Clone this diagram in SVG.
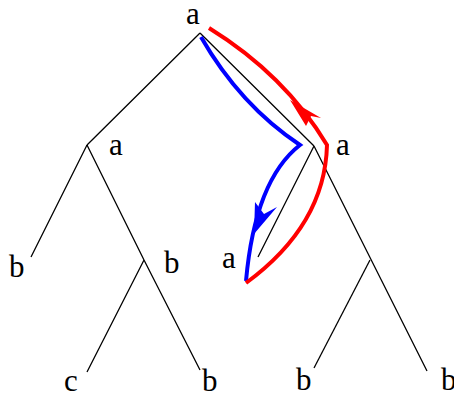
<svg xmlns="http://www.w3.org/2000/svg" width="454" height="398" viewBox="0 0 454 398">
<style>
.e{stroke:#000;stroke-width:1.3;fill:none}
.l{font-family:"Liberation Serif","Times New Roman",serif;font-size:31px;fill:#000}
.b{stroke:#0000ff;stroke-width:4;fill:none}
.r{stroke:#ff0000;stroke-width:4;fill:none}
</style>
<rect width="454" height="398" fill="#fff"/>
<g id="edges">
<path class="e" d="M200,33 L87,145 M200,33 L314,146"/>
<path class="e" d="M87,145 L31,257 M87,145 L144,260"/>
<path class="e" d="M144,260 L87,372 M144,260 L200,370"/>
<path class="e" d="M314,146 L258,257 M314,146 L427,371"/>
<path class="e" d="M370,260 L314,368"/>
</g>
<g id="n0"><text class="l" x="186" y="24">a</text></g>
<g id="n1"><text class="l" x="109" y="155">a</text></g>
<g id="n2"><text class="l" x="336" y="155">a</text></g>
<g id="n3"><text class="l" x="9" y="277">b</text></g>
<g id="n4"><text class="l" x="164" y="273">b</text></g>
<g id="n5"><text class="l" x="222" y="268">a</text></g>
<g id="n6"><text class="l" x="64" y="391">c</text></g>
<g id="n7"><text class="l" x="202" y="391">b</text></g>
<g id="n8"><text class="l" x="296" y="390">b</text></g>
<g id="n9"><text class="l" x="441" y="390">b</text></g>
<g id="paths">
<path class="b" d="M201,37 Q240,105 300,145 Q255,180 246,281"/>
<polygon fill="#0000ff" points="254,234 255,202 264,214 277,207"/>
<path class="r" d="M209,28 Q285,75 327,145 Q325,225 246,283"/>
<polygon fill="#ff0000" points="290,100 306,126 311,116 321,118"/>
</g>
</svg>
